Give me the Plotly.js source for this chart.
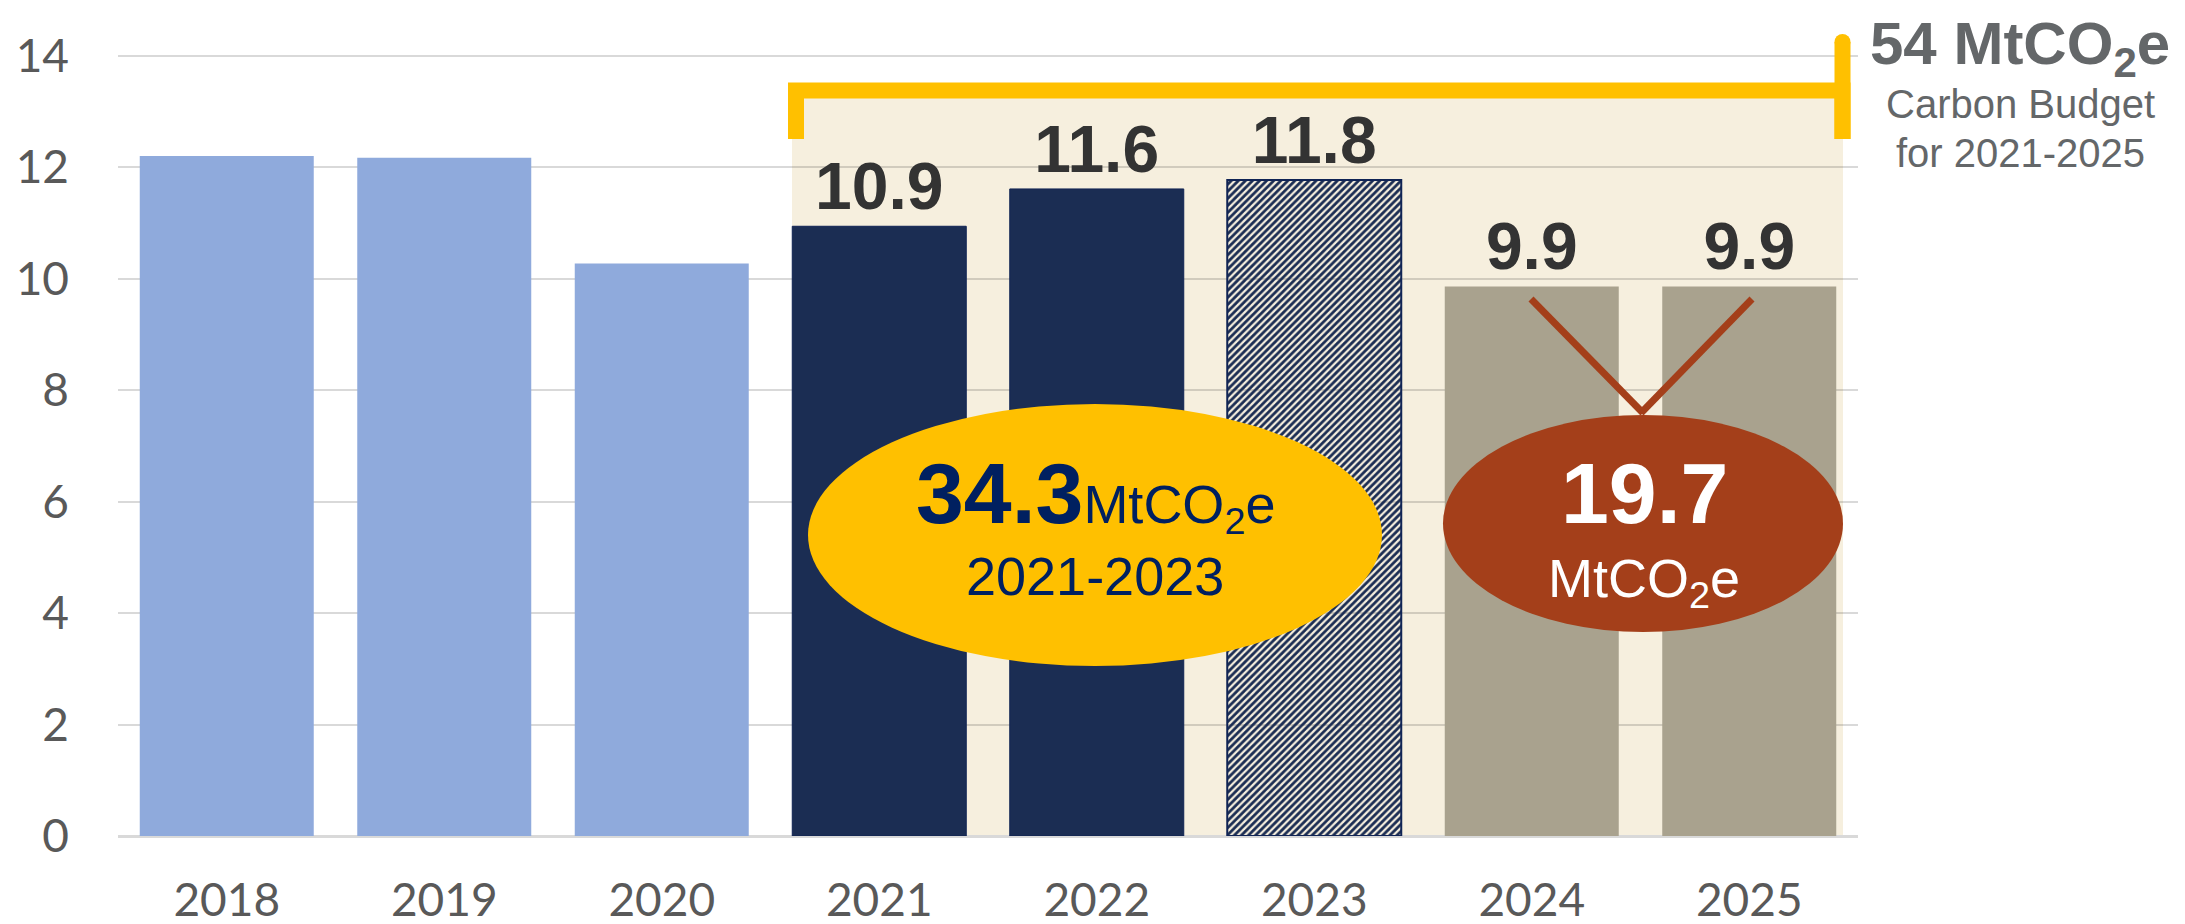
<!DOCTYPE html>
<html><head><meta charset="utf-8">
<script src="https://cdn.plot.ly/plotly-3.0.1.min.js"></script>
<style>html,body{margin:0;padding:0;background:#fff}#chart{width:2185px;height:924px}</style>
</head><body><div id="chart"></div>
<script>
// ---- data ----
const years = ['2018','2019','2020','2021','2022','2023','2024','2025'];
const emissions = [12.2, 12.17, 10.27, 10.94, 11.61, 11.77, 9.86, 9.86];
const showLabel = [false, false, false, true, true, true, true, true];
const barColors = ['#8FAADC','#8FAADC','#8FAADC','#1B2D53','#1B2D53','#1B2D53','#A9A28E','#A9A28E'];
const hatchShapes = ['','','','','','/','',''];
const budgetTotal = '54';
const budgetNote = ['Carbon Budget', 'for 2021-2025'];
const firstPeriod = '2021-2023';

const sum = (a) => a.reduce((s, v) => s + v, 0);
const total2123 = sum(emissions.slice(3, 6)).toFixed(1);
const total2425 = sum(emissions.slice(6, 8)).toFixed(1);

// ---- pixel helpers (plot area: x 118..1858, y 0..836) ----
const L = 118, R = 1858, T = 0, B = 836;
const px = x => (x - L) / (R - L);
const py = y => (B - y) / (B - T);

const trace = {
  type: 'bar',
  x: years,
  y: emissions,
  text: emissions.map((v, i) => showLabel[i] ? v.toFixed(1) : ''),
  textposition: 'outside',
  cliponaxis: false,
  textfont: {family: 'Liberation Sans, Arial, sans-serif', size: 66, color: '#333333', weight: 'bold'},
  texttemplate: '<b>%{text}</b>',
  marker: {
    color: barColors,
    line: {color: '#102455', width: [0,0,0,1,1,2,0,0]},
    pattern: {shape: hatchShapes, fgcolor: '#1B2D53', bgcolor: '#F6EFDE', size: 5, solidity: 0.55, fillmode: 'replace'}
  },
  hoverinfo: 'skip'
};

const yellow = '#FFC000', red = '#A43F1A', navy = '#002060', gray = '#646769';
const shapes = [
  {type: 'rect', xref: 'paper', yref: 'paper', x0: px(792), x1: px(1843), y0: py(836), y1: py(98),
   fillcolor: '#F6EFDE', line: {width: 0}, layer: 'below'},
  {type: 'path', xref: 'paper', yref: 'paper', layer: 'above',
   path: `M ${px(796)} ${py(139)} L ${px(796)} ${py(90.5)} L ${px(1842.5)} ${py(90.5)} L ${px(1842.5)} ${py(139)}`,
   line: {color: yellow, width: 16}},
  {type: 'line', xref: 'paper', yref: 'paper', layer: 'above',
   x0: px(1842.5), x1: px(1842.5), y0: py(42), y1: py(139), line: {color: yellow, width: 16}},
  {type: 'circle', xref: 'paper', yref: 'paper', layer: 'above',
   x0: px(1834.5), x1: px(1850.5), y0: py(50), y1: py(34), fillcolor: yellow, line: {width: 0}},
  {type: 'circle', xref: 'paper', yref: 'paper', layer: 'above',
   x0: px(808), x1: px(1382), y0: py(666), y1: py(404), fillcolor: yellow, line: {width: 0}},
  {type: 'line', xref: 'paper', yref: 'paper', layer: 'above',
   x0: px(1531), y0: py(299), x1: px(1643), y1: py(413), line: {color: red, width: 7}},
  {type: 'line', xref: 'paper', yref: 'paper', layer: 'above',
   x0: px(1752), y0: py(299), x1: px(1641), y1: py(413), line: {color: red, width: 7}},
  {type: 'circle', xref: 'paper', yref: 'paper', layer: 'above',
   x0: px(1443), x1: px(1843), y0: py(632), y1: py(415), fillcolor: red, line: {width: 0}}
];

const ann = (x, y, text, size, color, bold) => ({
  xref: 'paper', yref: 'paper', x: px(x), y: py(y), xanchor: 'center', yanchor: 'middle',
  text: bold ? '<b>' + text + '</b>' : text, showarrow: false,
  font: {family: 'Liberation Sans, Arial, sans-serif', size: size, color: color}
});

const annotations = [
  ann(1095, 493, '<span style="font-size:86px"><b>' + total2123 + '</b></span>MtCO<sub>2</sub>e', 54, navy, false),
  ann(1095, 576, firstPeriod, 54, navy, false),
  ann(1644, 493, total2425, 86, '#FFFFFF', true),
  ann(1644, 582, 'MtCO<sub>2</sub>e', 54, '#FFFFFF', false),
  ann(2020, 48, budgetTotal + ' MtCO<sub>2</sub>e', 60, gray, true),
  ann(2020, 104, budgetNote[0], 40, gray, false),
  ann(2020, 153, budgetNote[1], 40, gray, false)
];

const layout = {
  width: 2185, height: 924,
  margin: {l: L, r: 2185 - R, t: T, b: 924 - B, pad: 0},
  paper_bgcolor: '#FFFFFF', plot_bgcolor: 'rgba(0,0,0,0)',
  bargap: 0.2,
  showlegend: false,
  xaxis: {
    type: 'category', showgrid: false, showline: false, ticks: '', zeroline: false,
    tickfont: {family: 'Lato, Calibri, sans-serif', size: 46, color: '#595959'},
    ticklabelstandoff: 33, fixedrange: true
  },
  yaxis: {
    range: [0, 15], tick0: 0, dtick: 2, showline: false, ticks: '',
    gridcolor: 'rgba(0,0,0,0.15)', gridwidth: 2,
    zeroline: true, zerolinecolor: '#D9D9D9', zerolinewidth: 3,
    tickfont: {family: 'Lato, Calibri, sans-serif', size: 46, color: '#595959'},
    ticklabelstandoff: 48, fixedrange: true
  },
  shapes: shapes,
  annotations: annotations
};

Plotly.newPlot('chart', [trace], layout, {displayModeBar: false, staticPlot: true});
</script></body></html>
